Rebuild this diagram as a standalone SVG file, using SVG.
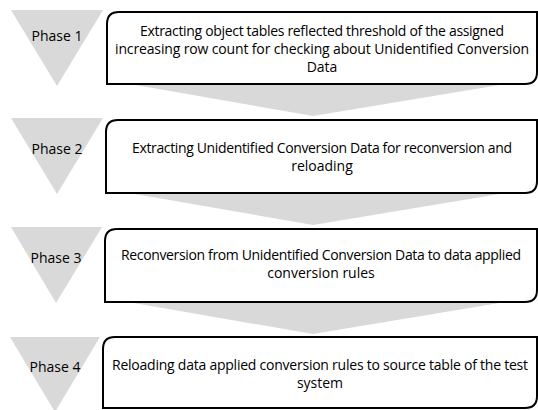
<svg xmlns="http://www.w3.org/2000/svg" width="538" height="410" viewBox="0 0 538 410">
<style>
.tri{fill:#d9d9d9;}
.wedge{fill:#d9d9d9;}
.box{fill:#fff;stroke:#000;stroke-width:2;}
.ph{font-family:"Open Sans","Noto Sans",sans-serif;font-size:14px;fill:#000;text-anchor:middle;}
.tx{font-family:"Open Sans","Noto Sans",sans-serif;font-size:14px;fill:#000;text-anchor:middle;}
</style>
<rect width="538" height="410" fill="#fff"/>
<g id="connectors">
<polygon class="wedge" points="107,80 530,80 313,116"/>
<polygon class="wedge" points="106,189 530,189 313,225"/>
<polygon class="wedge" points="105,298 530,298 313,334"/>
</g>
<g id="phase1">
<polygon class="tri" points="11,10 103,10 57,86"/>
<text class="ph" x="57" y="41">Phase 1</text>
<path class="box" d="M107,24 Q107,12 119,12 L537,12 L537,72 Q537,84 525,84 L107,84 Z"/>
<text class="tx" x="322" y="36" textLength="364" lengthAdjust="spacing">Extracting object tables reflected threshold of the assigned</text>
<text class="tx" x="322" y="54" textLength="414" lengthAdjust="spacing">increasing row count for checking about Unidentified Conversion</text>
<text class="tx" x="322" y="72">Data</text>
</g>
<g id="phase2">
<polygon class="tri" points="11,118 103,118 57,194"/>
<text class="ph" x="57" y="154">Phase 2</text>
<path class="box" d="M106,132 Q106,120 118,120 L537,120 L537,181 Q537,193 525,193 L106,193 Z"/>
<text class="tx" x="322" y="153" textLength="380" lengthAdjust="spacing">Extracting Unidentified Conversion Data for reconversion and</text>
<text class="tx" x="322" y="171">reloading</text>
</g>
<g id="phase3">
<polygon class="tri" points="11,227 102,227 56,303"/>
<text class="ph" x="56" y="263">Phase 3</text>
<path class="box" d="M105,241 Q105,229 117,229 L537,229 L537,290 Q537,302 525,302 L105,302 Z"/>
<text class="tx" x="321" y="260" textLength="400" lengthAdjust="spacing">Reconversion from Unidentified Conversion Data to data applied</text>
<text class="tx" x="321" y="278">conversion rules</text>
</g>
<g id="phase4">
<polygon class="tri" points="10,337 100,337 55,412"/>
<text class="ph" x="55" y="372">Phase 4</text>
<path class="box" d="M103,349 Q103,337 115,337 L537,337 L537,396 Q537,408 525,408 L103,408 Z"/>
<text class="tx" x="320" y="370" textLength="416" lengthAdjust="spacing">Reloading data applied conversion rules to source table of the test</text>
<text class="tx" x="320" y="388">system</text>
</g>
</svg>
